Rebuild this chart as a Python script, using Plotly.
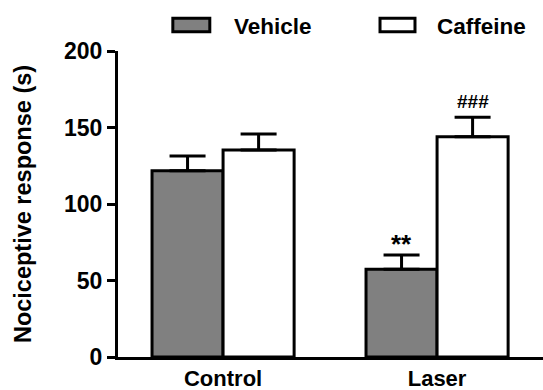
import plotly.graph_objects as go

groups = ["Control", "Laser"]
series_names = ["Vehicle", "Caffeine"]
vehicle_mean = [121.8, 57.3]
vehicle_sem = [9.6, 9.4]
caffeine_mean = [135.3, 144.0]
caffeine_sem = [10.5, 12.7]
vehicle_marks = ["", "**"]
caffeine_marks = ["", "###"]
y_ticks = [0, 50, 100, 150, 200]

FONT = "Liberation Sans, Arial, sans-serif"
fill_colors = ["#808080", "#ffffff"]

fig = go.Figure()
for name, means, sems, color in [
    (series_names[0], vehicle_mean, vehicle_sem, fill_colors[0]),
    (series_names[1], caffeine_mean, caffeine_sem, fill_colors[1]),
]:
    fig.add_trace(go.Bar(
        x=groups, y=means, name=name, showlegend=False, hoverinfo="skip",
        marker=dict(color=color, line=dict(color="black", width=3)),
        error_y=dict(type="data", symmetric=False, array=sems,
                     arrayminus=[0] * len(sems), color="black",
                     thickness=3, width=18),
    ))

# significance marks above error bars
for marks, means, sems, shift, size, yshift in [
    (vehicle_marks, vehicle_mean, vehicle_sem, -35.5, 26, -6),
    (caffeine_marks, caffeine_mean, caffeine_sem, 35.5, 19, 3),
]:
    for g, m, mu, s in zip(groups, marks, means, sems):
        if m:
            fig.add_annotation(x=g, y=mu + s, xref="x", yref="y", text=m,
                               showarrow=False, xshift=shift, yshift=yshift,
                               yanchor="bottom",
                               font=dict(family=FONT, size=size, color="black", weight="bold"))

# custom legend (wide swatches)
legend_items = [
    (series_names[0], fill_colors[0], 0.129, 0.216, 0.2675),
    (series_names[1], fill_colors[1], 0.6165, 0.6988, 0.746),
]
for name, color, x0, x1, xt in legend_items:
    fig.add_shape(type="rect", xref="paper", yref="paper", x0=x0, x1=x1,
                  y0=1.063, y1=1.107, fillcolor=color,
                  line=dict(color="black", width=3))
    fig.add_annotation(x=xt, y=1.085, xref="paper", yref="paper", text=name,
                       showarrow=False, xanchor="left", yanchor="middle", yshift=-2,
                       font=dict(family=FONT, size=22.5, color="black", weight="bold"))

fig.update_layout(
    width=543, height=390,
    margin=dict(l=118, r=0, t=51, b=33, autoexpand=False),
    plot_bgcolor="white", paper_bgcolor="white",
    barmode="group", bargap=0.336, bargroupgap=0,
    font=dict(family=FONT, color="black"),
    xaxis=dict(range=[-0.491, 1.495], showline=True, linecolor="black",
               linewidth=3, ticks="", showgrid=False, zeroline=False,
               tickfont=dict(family=FONT, size=22, color="black", weight="bold")),
    yaxis=dict(range=[0, 200], tickvals=y_ticks, showline=True,
               linecolor="black", linewidth=3, ticks="outside", ticklen=8,
               tickwidth=3, tickcolor="black", showgrid=False, zeroline=False,
               tickfont=dict(family=FONT, size=23, color="black", weight="bold"),
               title=dict(text="Nociceptive response (s)", standoff=26,
                          font=dict(family=FONT, size=23.5, color="black", weight="bold"))),
)

fig.write_html("out.html", config={"displayModeBar": False},
               post_script="document.body.style.margin='0';document.body.style.overflow='hidden';")
